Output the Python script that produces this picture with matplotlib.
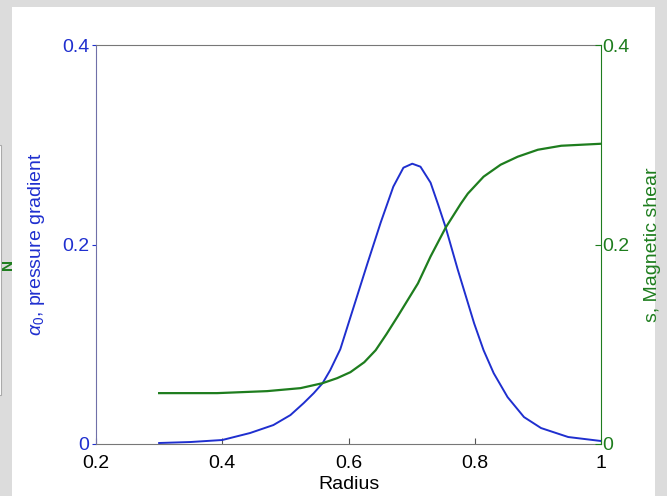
import matplotlib
matplotlib.use('Agg')
import matplotlib.pyplot as plt
from matplotlib.patches import Rectangle

plt.rcParams['font.family'] = ['Liberation Sans', 'DejaVu Sans']
plt.rcParams['mathtext.fontset'] = 'custom'
plt.rcParams['mathtext.rm'] = 'Liberation Sans'
plt.rcParams['mathtext.it'] = 'Liberation Sans:italic'

# pressure gradient (left axis)
r_alpha = [0.300, 0.350, 0.400, 0.444, 0.481, 0.508, 0.529, 0.545, 0.559, 0.571,
           0.587, 0.608, 0.630, 0.651, 0.671, 0.687, 0.701, 0.714, 0.730, 0.742,
           0.754, 0.773, 0.786, 0.799, 0.814, 0.830, 0.852, 0.878, 0.905, 0.948,
           1.000]
alpha0 = [0.001, 0.002, 0.004, 0.011, 0.019, 0.029, 0.041, 0.051, 0.061, 0.074,
          0.095, 0.137, 0.181, 0.222, 0.258, 0.277, 0.281, 0.278, 0.262, 0.240,
          0.217, 0.175, 0.148, 0.121, 0.094, 0.071, 0.047, 0.027, 0.016, 0.007,
          0.003]

# magnetic shear (right axis)
r_shear = [0.300, 0.392, 0.471, 0.524, 0.559, 0.582, 0.603, 0.625, 0.643, 0.660,
           0.678, 0.710, 0.730, 0.754, 0.778, 0.789, 0.814, 0.841, 0.868, 0.900,
           0.937, 1.000]
shear = [0.051, 0.051, 0.053, 0.056, 0.061, 0.066, 0.072, 0.082, 0.094, 0.110,
         0.128, 0.161, 0.188, 0.217, 0.241, 0.251, 0.268, 0.280, 0.288, 0.295,
         0.299, 0.301]

x_ticks = [0.2, 0.4, 0.6, 0.8, 1]
x_ticklabels = ['0.2', '0.4', '0.6', '0.8', '1']
y_ticks = [0, 0.2, 0.4]
y_ticklabels = ['0', '0.2', '0.4']

blue = '#1f2fcf'
green = '#1e7d1e'

fig = plt.figure(figsize=(6.67, 4.96), dpi=100, facecolor='#dcdcdc')
# white panel behind the plot, plus the clipped box at the left edge
fig.patches.append(Rectangle((12 / 667, 0), (655 - 12) / 667, 1 - 7 / 496,
                             transform=fig.transFigure, facecolor='white',
                             edgecolor='none', zorder=-10))
fig.patches.append(Rectangle((-0.01, 1 - 395 / 496), 8 / 667, 250 / 496,
                             transform=fig.transFigure, facecolor='white',
                             edgecolor='#aaaaaa', linewidth=0.8, zorder=-10))
fig.text(1 / 667, 1 - 264 / 496, 'N', color=green, fontsize=11,
         rotation=90, ha='left', va='center', fontweight='bold')

ax = fig.add_axes([96 / 667, 1 - 444 / 496, (601 - 96) / 667, (444 - 45) / 496])
ax.patch.set_alpha(0)
ax.plot(r_alpha, alpha0, color=blue, linewidth=1.4, solid_joinstyle='round')
ax.set_xlim(0.2, 1)
ax.set_ylim(0, 0.4)
ax.set_xticks(x_ticks)
ax.set_xticklabels(x_ticklabels)
ax.set_yticks(y_ticks)
ax.set_yticklabels(y_ticklabels)
ax.tick_params(axis='x', direction='in', length=4, labelsize=14, pad=8,
               color='#555555')
ax.tick_params(axis='y', direction='out', length=3, labelsize=14, pad=2,
               colors=blue)
ax.spines['left'].set_color('#7070a8')
ax.spines['top'].set_color('#777777')
ax.spines['bottom'].set_color('#777777')
ax.spines['right'].set_visible(False)
ax.set_xlabel('Radius', fontsize=14, labelpad=3)
ax.set_ylabel(r'$\alpha_0$, pressure gradient', fontsize=14, color=blue,
              labelpad=11)

ax2 = ax.twinx()
ax2.patch.set_alpha(0)
ax2.plot(r_shear, shear, color=green, linewidth=1.6, solid_joinstyle='round')
ax2.set_ylim(0, 0.4)
ax2.set_yticks(y_ticks)
ax2.set_yticklabels(y_ticklabels)
ax2.tick_params(axis='y', direction='in', length=4, labelsize=14, pad=1,
                colors=green)
ax2.spines['right'].set_color(green)
for s in ['left', 'top', 'bottom']:
    ax2.spines[s].set_visible(False)
ax2.set_ylabel('s, Magnetic shear', fontsize=14, color=green, labelpad=10)

fig.savefig('out.png', dpi=100, facecolor=fig.get_facecolor())
